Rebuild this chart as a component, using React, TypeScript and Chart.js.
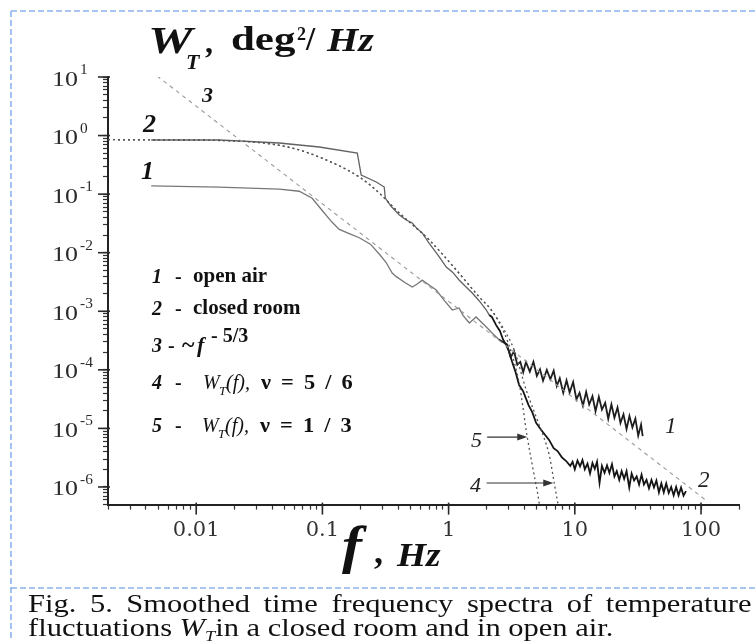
import React, { useEffect, useRef } from "react";
import { Chart, registerables } from "chart.js";

Chart.register(...registerables);

// ---------- data ----------
// curve 1: open air
const openAirHz = [
  0.0044, 0.0152, 0.0455, 0.0655, 0.083, 0.1, 0.118, 0.136, 0.165, 0.196, 0.24, 0.282, 0.32, 0.357, 0.385,
  0.45, 0.515, 0.56, 0.618, 0.7, 0.798, 0.93, 1.07, 1.21, 1.3, 1.46, 1.65, 1.99, 2.21, 2.5,
  2.9, 3.1, 3.3, 3.5, 3.7, 3.9, 4.1, 4.4, 4.7, 5.0, 5.3, 5.6, 6.0, 6.4, 6.8, 7.2, 7.6, 8.1, 8.6, 9.1,
  9.7, 10.3, 10.9, 11.6, 12.3, 13.0, 13.8, 14.6, 15.5, 16.4, 17.4, 18.4, 19.5, 20.6, 21.8, 23.0, 24.3,
  25.7, 27.1, 28.6, 30.2, 31.8, 33.5, 34.5,
];
const openAirW = [
  0.138, 0.132, 0.122, 0.112, 0.085, 0.052, 0.034, 0.025, 0.021, 0.018, 0.014, 0.0095, 0.0068, 0.0045, 0.0039,
  0.0031, 0.0026, 0.0029, 0.0034, 0.0028, 0.0023, 0.0015, 0.00105, 0.00114, 0.00085, 0.00063, 0.0008, 0.00054, 0.000426, 0.00033,
  2.72e-4, 1.64e-4, 2.07e-4, 1.22e-4, 1.37e-4, 9.1e-5, 1.36e-4, 9.3e-5, 1.37e-4, 7.9e-5, 1.02e-4, 6.5e-5, 9.95e-5, 6.9e-5, 9.7e-5, 5.3e-5, 7.2e-5, 4.05e-5, 6.6e-5, 4.1e-5,
  6.2e-5, 3.14e-5, 4.06e-5, 2.43e-5, 4.2e-5, 2.55e-5, 3.54e-5, 1.97e-5, 3.46e-5, 2.1e-5, 2.74e-5, 1.46e-5, 2.58e-5, 1.52e-5, 2.28e-5, 1.24e-5, 1.74e-5,
  9.8e-6, 1.62e-5, 1.04e-5, 1.47e-5, 7.5e-6, 1.16e-5, 7.4e-6,
];

// curve 2: closed room
const roomHz = [
  0.0044, 0.0152, 0.0455, 0.0944, 0.189, 0.203, 0.267, 0.309, 0.315, 0.35, 0.407, 0.462, 0.515, 0.56, 0.618,
  0.7, 0.843, 0.958, 1.08, 1.21, 1.35, 1.54, 1.75, 1.99, 2.1, 2.2, 2.38, 2.55, 2.7, 2.86, 3.0, 3.19, 3.4,
  3.62, 3.9, 4.3, 4.6, 4.94, 5.4, 5.8, 6.27, 6.8, 7.3, 7.9, 8.5,
  9.2, 9.6, 10.0, 10.5, 11, 11.5, 12, 12.6, 13.2, 13.8, 14.4, 15, 15.7, 16.4, 17.2, 18, 18.8, 19.7, 20.6,
  21.5, 22.5, 23.5, 24.6, 25.7, 27, 28.2, 29.5, 30.9, 32.3, 33.8, 35.3, 37, 38.7, 40.5, 42.4, 44.3, 46.4,
  48.5, 50.7, 53, 55.5, 58, 60.7, 63.5, 66.4, 69.5, 72.7, 76,
];
const roomW = [
  0.84, 0.84, 0.746, 0.638, 0.503, 0.212, 0.161, 0.132, 0.0859, 0.062, 0.0441, 0.0362, 0.0322, 0.026, 0.0217,
  0.0145, 0.00845, 0.0057, 0.0046, 0.00342, 0.0027, 0.00205, 0.0015, 0.00105, 8.6e-4, 8.0e-4, 5.8e-4, 4.6e-4, 3.3e-4, 2.65e-4, 2.1e-4, 1.36e-4, 9.0e-5,
  5.5e-5, 4.3e-5, 2.5e-5, 1.9e-5, 1.24e-5, 9.5e-6, 7.8e-6, 6.3e-6, 4.6e-6, 4.1e-6, 3.2e-6, 2.8e-6,
  2.29e-6, 2.69e-6, 2.0e-6, 2.82e-6, 2.24e-6, 2.88e-6, 2.0e-6, 2.51e-6, 1.7e-6, 2.57e-6, 2.04e-6, 2.69e-6, 1.17e-6, 2.29e-6, 1.74e-6, 2.34e-6, 1.74e-6, 2.45e-6, 1.51e-6,
  1.86e-6, 1.32e-6, 1.86e-6, 1.38e-6, 1.86e-6, 9.8e-7, 1.7e-6, 1.29e-6, 1.51e-6, 1.1e-6, 1.62e-6, 1.1e-6, 1.32e-6, 9.5e-7, 1.32e-6, 9.8e-7, 1.29e-6, 8.1e-7,
  1.15e-6, 8.1e-7, 1.15e-6, 7.9e-7, 1.0e-6, 7.2e-7, 1.0e-6, 7.2e-7, 9.8e-7, 7.1e-7, 8.5e-7,
];

// curve 3: ~ f^-5/3
const kolmogorovHz = [0.0049, 112];
const kolmogorovW = [10.4, 5.7e-7];

// curves 4 and 5: model spectra (common part, then separate cut-offs)
const modelHz = [0.002, 0.005, 0.01, 0.02, 0.0316, 0.0546, 0.0944, 0.196, 0.282, 0.338, 0.407, 0.702, 1.15, 1.75, 2.18];
const modelW = [0.85, 0.845, 0.835, 0.81, 0.76, 0.63, 0.43, 0.196, 0.1045, 0.0706, 0.0477, 0.0165, 0.00507, 0.00175, 1.05e-3];
const nu56TailHz = [2.76, 3.31, 4.12, 5.22, 6.27, 6.87, 7.38];
const nu56TailW = [4.79e-4, 2.18e-4, 4.53e-5, 1.14e-5, 3.5e-6, 1.17e-6, 4.9e-7];
const nu13TailHz = [2.76, 3.19, 3.62, 4.2, 4.68, 5.22, 5.3];
const nu13TailW = [4.26e-4, 1.79e-4, 5.97e-5, 7.1e-6, 1.95e-6, 5.3e-7, 4.0e-7];

// axis ranges and tick labels
const xRange = [0.002, 200];
const yRange = [5e-7, 10];
const xTickValues = [0.01, 0.1, 1, 10, 100];
const xTickLabels = ["0.01", "0.1", "1", "10", "100"];
const yTickValues = [10, 1, 0.1, 0.01, 1e-3, 1e-4, 1e-5, 1e-6];
const yTickBase = "10";
const yTickExponents = ["1", "0", "-1", "-2", "-3", "-4", "-5", "-6"];

// arrows pointing at curves 5 and 4
const arrowTailHz = [2.02, 2.0];
const arrowTipHz = [4.2, 6.75];
const arrowW = [7.1e-6, 1.17e-6];

const SERIF = "'Liberation Serif', 'Times New Roman', serif";

const pts = (xs: number[], ys: number[]) => xs.map((x, i) => ({ x, y: ys[i] }));
const isDecade = (v: number) => {
  const l = Math.log10(v);
  return Math.abs(l - Math.round(l)) < 1e-6;
};
const labelFor = (v: number, vals: number[], labels: string[]) => {
  const i = vals.findIndex((t) => Math.abs(Math.log10(t) - Math.log10(v)) < 1e-6);
  return i >= 0 ? labels[i] : "";
};
const noMid = (scale: any) => {
  scale.ticks = scale.ticks.filter((t: any) => {
    const m = t.value / Math.pow(10, Math.floor(Math.log10(t.value) + 1e-9));
    return Math.abs(m - 1.5) > 0.01;
  });
};

const decor = {
  id: "decor",
  afterDraw(chart: any) {
    const { ctx, scales } = chart;
    const x = scales.x;
    const y = scales.y;
    ctx.save();
    ctx.strokeStyle = "#2a2a2a";
    ctx.lineWidth = 1.6;
    // longer major ticks
    x.ticks.forEach((t: any) => {
      if (!isDecade(t.value)) return;
      const px = x.getPixelForValue(t.value);
      ctx.beginPath();
      ctx.moveTo(px, y.bottom - 2);
      ctx.lineTo(px, y.bottom + 10);
      ctx.stroke();
    });
    y.ticks.forEach((t: any) => {
      if (!isDecade(t.value)) return;
      const py = y.getPixelForValue(t.value);
      ctx.beginPath();
      ctx.moveTo(x.left - 10, py);
      ctx.lineTo(x.left + 2, py);
      ctx.stroke();
    });
    // y tick labels: 10 with raised exponent
    ctx.fillStyle = "#2b2b2b";
    ctx.textAlign = "left";
    ctx.textBaseline = "alphabetic";
    yTickValues.forEach((v, i) => {
      const py = y.getPixelForValue(v);
      ctx.save();
      ctx.translate(52, py + 8.5);
      ctx.scale(1.18, 1);
      ctx.font = `22px ${SERIF}`;
      ctx.fillText(yTickBase, 0, 0);
      ctx.restore();
      ctx.save();
      ctx.translate(80, py - 3);
      ctx.scale(1.1, 1);
      ctx.font = `14px ${SERIF}`;
      ctx.fillText(yTickExponents[i], 0, 0);
      ctx.restore();
    });
    // arrows
    ctx.strokeStyle = "#333";
    ctx.fillStyle = "#333";
    ctx.lineWidth = 1.2;
    arrowTipHz.forEach((tip, i) => {
      const x0 = x.getPixelForValue(arrowTailHz[i]);
      const x1 = x.getPixelForValue(tip);
      const yy = y.getPixelForValue(arrowW[i]);
      ctx.beginPath();
      ctx.moveTo(x0, yy);
      ctx.lineTo(x1 - 6, yy);
      ctx.stroke();
      ctx.beginPath();
      ctx.moveTo(x1, yy);
      ctx.lineTo(x1 - 10, yy - 3.5);
      ctx.lineTo(x1 - 10, yy + 3.5);
      ctx.closePath();
      ctx.fill();
    });
    ctx.restore();
  },
};

function T(props: { x: number; b: number; s: number; w?: string; it?: boolean; sx?: number; c?: string; ws?: number; children: any }) {
  const { x, b, s, w = "bold", it = false, sx = 1, c = "#111", ws = 0, children } = props;
  return (
    <span
      style={{
        position: "absolute",
        left: x,
        top: b - 0.8375 * s,
        fontSize: s,
        lineHeight: `${s}px`,
        fontWeight: w as any,
        fontStyle: it ? "italic" : "normal",
        whiteSpace: "pre",
        wordSpacing: ws,
        color: c,
        fontFamily: SERIF,
        transform: sx !== 1 ? `scaleX(${sx})` : undefined,
        transformOrigin: "left top",
      }}
    >
      {children}
    </span>
  );
}

export default function App() {
  const ref = useRef<HTMLCanvasElement | null>(null);

  useEffect(() => {
    if (!ref.current) return;
    const dark = (thr: number, lo: string, hi: string) => (c: any) => (c.p0.parsed.x >= thr ? hi : lo);
    const chart = new Chart(ref.current, {
      type: "line",
      data: {
        datasets: [
          {
            label: "3",
            data: pts(kolmogorovHz, kolmogorovW),
            borderColor: "#9a9a9a",
            borderWidth: 1.1,
            borderDash: [4, 4],
            pointRadius: 0,
          },
          {
            label: "4",
            data: pts(modelHz.concat(nu56TailHz), modelW.concat(nu56TailW)),
            borderColor: "#555",
            borderWidth: 1.3,
            borderDash: [2, 3],
            pointRadius: 0,
            cubicInterpolationMode: "monotone",
          },
          {
            label: "5",
            data: pts(modelHz.concat(nu13TailHz), modelW.concat(nu13TailW)),
            borderColor: "#555",
            borderWidth: 1.3,
            borderDash: [2, 3],
            pointRadius: 0,
            cubicInterpolationMode: "monotone",
          },
          {
            label: "1",
            data: pts(openAirHz, openAirW),
            borderColor: "#777",
            borderWidth: 1.3,
            pointRadius: 0,
            segment: {
              borderColor: dark(2.4, "#777", "#1e1e1e"),
              borderWidth: (c: any) => (c.p0.parsed.x >= 2.4 ? 1.8 : 1.3),
            },
          },
          {
            label: "2",
            data: pts(roomHz, roomW),
            borderColor: "#666",
            borderWidth: 1.3,
            pointRadius: 0,
            segment: {
              borderColor: dark(2.0, "#626262", "#141414"),
              borderWidth: (c: any) => (c.p0.parsed.x >= 2.0 ? 1.8 : 1.3),
            },
          },
        ],
      },
      options: {
        animation: false,
        responsive: false,
        maintainAspectRatio: false,
        devicePixelRatio: 1,
        layout: { padding: { top: 77, right: 16, left: 0, bottom: 0 } },
        plugins: { legend: { display: false }, tooltip: { enabled: false } },
        scales: {
          x: {
            type: "logarithmic",
            min: xRange[0],
            max: xRange[1],
            afterBuildTicks: noMid,
            afterFit: (s: any) => {
              s.height = 641 - 504.6;
            },
            border: { display: true, color: "#222", width: 2 },
            grid: { display: true, drawOnChartArea: false, drawTicks: true, tickLength: 5, tickColor: "#333", tickWidth: 1.2 },
            ticks: {
              autoSkip: false,
              maxRotation: 0,
              padding: 8,
              color: "#333",
              font: { family: "'DejaVu Serif', serif", size: 21 },
              callback: (v: any) => labelFor(Number(v), xTickValues, xTickLabels),
            },
          },
          y: {
            type: "logarithmic",
            min: yRange[0],
            max: yRange[1],
            afterBuildTicks: noMid,
            afterFit: (s: any) => {
              s.width = 108;
            },
            border: { display: true, color: "#222", width: 2 },
            grid: { display: true, drawOnChartArea: false, drawTicks: true, tickLength: 5, tickColor: "#333", tickWidth: 1.2 },
            ticks: {
              autoSkip: false,
              padding: 12,
              callback: () => "",
            },
          },
        },
      },
      plugins: [decor],
    } as any);
    return () => chart.destroy();
  }, []);

  return (
    <div style={{ position: "absolute", left: 0, top: 0, width: 755, height: 641, background: "#fff", overflow: "hidden" }}>
      <canvas ref={ref} width={755} height={641} style={{ position: "absolute", left: 0, top: 0, width: 755, height: 641 }} />
      <svg width={755} height={641} style={{ position: "absolute", left: 0, top: 0 }}>
        <line x1={11} y1={11} x2={755} y2={11} stroke="#8db4ef" strokeWidth={1.6} strokeDasharray="6 3" />
        <line x1={11} y1={11} x2={11} y2={641} stroke="#8db4ef" strokeWidth={1.6} strokeDasharray="6 3" />
        <line x1={11} y1={588} x2={755} y2={588} stroke="#8db4ef" strokeWidth={1.6} strokeDasharray="6 3" />
      </svg>

      {/* title */}
      <T x={148} b={53} s={38} it sx={1.32}>W</T>
      <T x={186} b={69} s={22} it>T</T>
      <T x={205} b={53} s={32}>,</T>
      <T x={231} b={51} s={33} sx={1.3}>deg</T>
      <T x={297} b={40} s={18}>2</T>
      <T x={306} b={51} s={33}>/</T>
      <T x={327} b={51} s={34} it sx={1.18}>Hz</T>

      {/* axis title */}
      <T x={342} b={564} s={52} it sx={1.15}>f</T>
      <T x={374} b={563} s={36}>,</T>
      <T x={397} b={566} s={34} it sx={1.1}>Hz</T>

      {/* curve labels */}
      <T x={202} b={102} s={22} it>3</T>
      <T x={143} b={133} s={26} it>2</T>
      <T x={141} b={180} s={26} it>1</T>
      <T x={665} b={433} s={23} w="normal" it c="#222">1</T>
      <T x={698} b={487} s={23} w="normal" it c="#222">2</T>
      <T x={471} b={447} s={22} w="normal" it c="#222">5</T>
      <T x={470} b={492} s={22} w="normal" it c="#222">4</T>

      {/* legend */}
      <T x={152} b={283} s={20} it>1</T>
      <T x={175} b={283} s={20}>-</T>
      <T x={193} b={283} s={21}>open air</T>

      <T x={152} b={315} s={20} it>2</T>
      <T x={175} b={315} s={20}>-</T>
      <T x={193} b={315} s={21}>closed room</T>

      <T x={152} b={352} s={20} it>3</T>
      <T x={168} b={352} s={20}>-</T>
      <T x={182} b={352} s={24}>~</T>
      <T x={197} b={352} s={22} it>f</T>
      <T x={211} b={342} s={20}>- 5/3</T>

      <T x={152} b={389} s={20} it>4</T>
      <T x={175} b={389} s={20}>-</T>
      <T x={203} b={389} s={20} w="normal" it>W</T>
      <T x={219} b={395} s={13} w="normal" it>T</T>
      <T x={226} b={389} s={20} w="normal" it>(f),</T>
      <T x={261} b={389} s={20} ws={4} sx={1.12}>ν = 5 / 6</T>

      <T x={152} b={432} s={20} it>5</T>
      <T x={175} b={432} s={20}>-</T>
      <T x={202} b={432} s={20} w="normal" it>W</T>
      <T x={218} b={438} s={13} w="normal" it>T</T>
      <T x={225} b={432} s={20} w="normal" it>(f),</T>
      <T x={260} b={432} s={20} ws={4} sx={1.12}>ν = 1 / 3</T>

      {/* caption */}
      <div
        style={{
          position: "absolute",
          left: 28,
          top: 612 - 0.8375 * 25,
          width: 593,
          fontFamily: SERIF,
          fontSize: 25,
          lineHeight: "25px",
          color: "#111",
          textAlign: "justify",
          textAlignLast: "justify" as any,
          whiteSpace: "nowrap",
          transform: "scaleX(1.22)",
          transformOrigin: "left top",
        }}
      >
        Fig. 5. Smoothed time frequency spectra of temperature
      </div>
      <div
        style={{
          position: "absolute",
          left: 28,
          top: 636 - 0.8375 * 25,
          fontFamily: SERIF,
          fontSize: 25,
          lineHeight: "25px",
          color: "#111",
          whiteSpace: "nowrap",
          transform: "scaleX(1.22)",
          transformOrigin: "left top",
        }}
      >
        fluctuations <i>W</i>
        <span style={{ fontSize: 15, fontStyle: "italic", position: "relative", top: 5 }}>T</span>in a closed room and in open air.
      </div>
    </div>
  );
}
